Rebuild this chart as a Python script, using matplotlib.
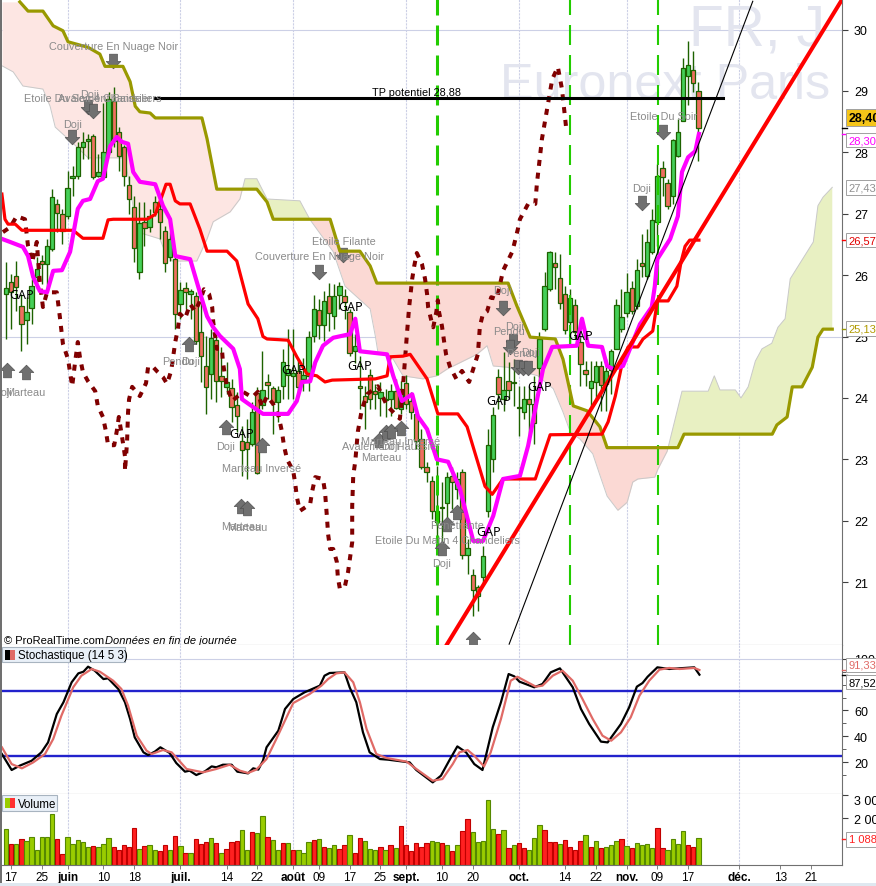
import matplotlib
matplotlib.use('Agg')
import matplotlib.pyplot as plt
from matplotlib.path import Path
from matplotlib.patches import Rectangle
import numpy as np

plt.rcParams['font.family'] = ['Liberation Sans', 'DejaVu Sans']

# chandeliers
opens = [25.69,25.88,25.98,25.50,25.27,25.46,25.97,26.23,26.18,26.43,27.16,26.99,26.96,27.58,27.61,28.09,28.18,28.27,27.61,27.60,
         28.00,28.84,28.33,28.09,27.47,27.11,26.05,26.86,26.78,27.19,27.08,26.72,26.29,26.26,25.53,25.79,25.69,25.66,25.07,24.52,
         24.39,24.94,24.36,24.18,24.16,23.88,23.30,23.28,23.25,24.08,23.88,24.26,24.16,23.93,24.19,24.37,24.35,24.44,24.31,24.36,
         25.01,25.43,25.19,25.66,25.33,25.67,25.66,25.40,24.76,24.19,24.03,24.37,24.11,24.00,23.96,23.98,24.11,23.82,24.24,23.95,
         23.74,23.33,22.87,22.65,21.98,22.20,22.29,22.73,22.52,22.79,21.44,21.11,20.92,21.08,22.16,23.00,24.34,23.98,24.28,24.24,
         23.85,23.77,23.98,23.90,24.49,25.12,25.77,26.20,25.95,25.69,25.24,25.51,24.91,24.45,24.16,24.26,24.52,24.23,24.45,24.80,
         25.12,25.38,25.79,25.50,26.20,25.98,26.38,26.86,27.74,27.50,27.29,27.94,28.51,29.24,29.34,29.00]
closes = [25.79,25.72,25.81,25.20,25.40,25.82,26.10,26.18,26.47,27.27,27.01,26.72,27.42,27.61,28.09,28.17,28.21,27.60,27.68,28.00,
          28.87,28.18,27.94,27.61,27.24,26.44,26.85,26.77,26.96,27.03,26.86,26.20,26.59,25.37,25.76,25.72,25.74,24.93,24.68,24.18,
          24.97,24.27,24.27,24.26,23.85,23.70,23.15,23.17,23.77,22.78,24.13,24.21,23.93,24.13,24.58,24.47,24.40,24.18,24.37,24.99,
          25.45,25.19,25.58,25.38,25.66,25.82,25.56,24.73,24.84,24.16,23.93,23.98,24.06,24.10,23.99,24.11,23.83,24.15,23.90,23.77,
          23.30,22.87,22.79,22.16,22.16,22.23,22.71,22.63,22.68,21.44,21.56,20.87,20.77,21.43,23.23,23.72,24.06,24.13,24.13,24.26,
          23.83,23.98,23.90,23.59,24.96,25.82,26.37,26.13,25.55,25.11,25.63,25.07,24.55,24.39,24.27,24.52,24.21,24.44,24.76,25.51,
          25.32,25.72,25.41,26.08,26.15,26.54,26.90,27.61,27.60,27.12,28.20,28.33,29.37,29.42,29.13,28.40]
highs = [26.21,26.02,26.23,25.69,25.64,25.94,26.29,26.33,26.59,27.40,27.24,27.08,27.70,27.78,28.17,28.33,28.30,28.30,27.97,28.80,
         28.98,29.06,28.41,28.12,27.61,27.29,27.19,27.19,27.08,27.29,27.24,26.80,26.70,26.31,25.89,25.89,25.77,25.72,25.61,25.01,
         25.12,25.07,24.83,24.58,24.31,24.10,23.54,23.66,23.93,24.18,24.76,24.39,24.19,24.19,24.80,25.12,25.12,24.63,24.65,25.09,
         25.68,25.61,25.74,25.87,25.85,25.89,25.77,25.45,25.04,24.68,24.19,24.47,24.23,24.26,24.15,24.23,24.31,24.27,24.37,24.10,
         23.82,23.49,22.96,22.73,22.89,22.63,22.79,22.87,22.79,22.84,21.70,21.21,20.95,21.59,23.49,23.85,24.47,24.75,24.58,24.63,
         24.19,24.19,24.19,24.36,25.07,26.05,26.39,26.38,26.34,25.82,25.77,25.61,25.29,24.60,24.60,24.60,24.60,24.63,24.80,25.61,
         25.77,26.03,25.90,26.26,26.67,26.75,27.08,27.81,27.86,27.57,28.22,28.54,29.54,29.81,29.65,29.15]
lows = [24.96,25.12,25.41,24.76,24.88,25.20,25.77,25.85,25.77,26.39,26.70,26.51,26.91,27.29,27.57,27.89,27.89,27.57,27.60,27.57,
        27.97,28.09,27.70,27.45,26.99,26.21,25.94,26.47,26.70,26.96,26.59,26.05,26.23,25.12,25.29,25.45,25.29,24.88,24.26,23.74,
        23.98,23.93,24.01,24.06,23.61,23.44,22.73,22.68,23.22,22.76,23.82,23.98,23.41,23.61,23.98,23.98,23.98,24.10,24.11,24.11,
        24.91,24.96,24.93,25.09,25.12,25.45,25.29,24.68,24.57,23.82,23.49,23.82,23.82,23.70,23.69,23.70,23.82,23.74,23.82,23.66,
        23.17,22.84,22.63,22.03,21.54,21.54,21.95,22.19,22.35,21.38,21.13,20.45,20.53,20.97,22.06,22.79,23.82,23.79,23.98,23.87,
        23.38,23.66,23.38,23.25,24.26,25.09,25.74,25.77,25.45,25.04,24.84,24.96,24.19,24.19,23.85,23.98,23.79,23.79,24.06,24.80,
        25.07,25.32,25.37,25.45,25.97,25.94,26.35,26.47,27.29,27.08,27.16,27.92,28.51,28.77,28.98,27.86]

# ichimoku et moyennes (barre, prix)
span_b_bars = [2.7,4.3,7.2,9.2,11.1,12.1,16.0,18.3,19.3,22.8,24.2,25.2,26.1,28.1,29.1,38.2,39.2,41.1,48.9,50.9,52.1,63.2,65.1,69.0,71.0,72.3,
               97.9,99.6,102.2,107.1,108.6,110.6,113.3,115.8,117.2,131.0,132.2,149.4,150.3,152.3,153.3,155.2,157.2,158.3,159.3,161.1]
span_b = [30.45,30.30,30.30,30.06,29.98,29.80,29.71,29.60,29.40,29.40,29.15,28.75,28.66,28.64,28.56,28.56,28.22,27.40,27.40,27.19,26.91,26.91,26.39,26.39,26.15,25.87,
          25.87,25.50,24.99,24.96,24.63,23.87,23.79,23.53,23.19,23.19,23.41,23.41,23.56,23.69,24.18,24.18,24.50,24.99,25.12,25.12]
span_a_bars = [-0.8,1.4,3.3,7.2,8.6,9.6,13.8,16.0,23.2,23.8,24.8,25.7,30.0,31.0,32.4,37.2,39.2,40.4,43.7,45.6,46.6,48.9,50.9,57.3,59.3,63.8,66.1,71.0,72.0,72.5,
               75.5,77.4,81.3,84.0,86.0,87.2,91.8,93.8,95.0,97.7,103.7,106.7,108.6,110.0,111.9,114.4,115.8,117.2,119.3,121.1,122.2,123.2,126.5,127.1,128.9,129.5,
               131.8,136.9,138.1,139.2,142.2,143.3,144.7,146.1,147.4,149.3,150.5,151.9,152.9,157.4,158.3,159.3,161.1]
span_a = [29.41,29.31,29.08,29.03,28.75,28.41,28.09,27.91,27.91,27.61,27.11,26.70,26.59,26.38,26.23,26.23,26.59,26.87,27.03,27.24,27.57,27.57,27.24,27.21,26.90,26.38,25.82,25.45,25.01,24.75,
          24.63,24.36,24.31,24.36,24.47,24.52,24.71,24.85,24.52,24.50,24.36,24.15,23.77,23.45,23.33,23.09,22.74,22.40,22.17,22.30,22.63,22.68,22.71,22.84,23.13,23.33,
          24.11,24.11,24.36,24.13,24.13,24.00,24.18,24.60,24.80,24.89,25.15,25.29,25.94,26.54,27.13,27.27,27.43]
magenta_bars = [-0.8,0.8,3.3,4.3,5.3,6.6,8.0,9.2,10.9,12.5,14.0,15.0,16.4,17.9,18.9,20.3,21.6,22.6,23.8,24.8,26.1,29.1,30.6,32.0,33.0,35.9,37.8,39.2,40.4,41.7,44.3,45.6,46.0,48.2,50.1,55.0,
                56.7,57.7,59.3,60.3,61.8,63.8,67.1,68.1,69.0,74.3,75.5,77.2,79.2,80.3,82.1,84.0,86.2,88.5,91.1,93.0,95.0,96.9,100.2,101.8,104.7,106.5,111.3,112.3,113.5,116.2,117.2,118.4,120.3,
                123.6,125.9,126.5,127.0,129.5,131.0,131.8,133.0,134.4,135.1]
magenta = [26.59,26.54,26.46,26.31,25.97,25.74,25.72,26.07,26.08,26.38,27.08,27.21,27.24,27.53,27.57,28.10,28.25,28.17,28.14,27.68,27.52,27.48,27.13,26.91,26.31,26.26,25.72,25.33,25.15,25.01,24.80,24.47,23.98,23.85,23.74,23.74,
           23.95,24.26,24.27,24.58,24.85,24.98,25.04,25.29,24.76,24.71,24.36,23.95,24.06,23.70,23.49,23.00,22.96,22.52,21.67,21.67,22.08,22.68,22.73,23.22,24.47,24.83,24.85,25.29,24.85,24.83,24.52,24.47,24.52,
           25.20,25.48,25.82,26.26,26.59,26.96,27.68,27.92,28.02,28.30]
kijun_bars = [-0.8,-0.2,0.4,1.8,3.1,13.1,15.0,18.9,19.9,20.9,27.5,29.1,30.0,31.2,32.0,33.0,33.9,35.9,37.8,39.2,43.1,45.0,47.2,49.1,50.1,50.9,55.0,56.7,58.7,60.6,62.2,63.6,72.0,74.3,74.9,77.4,78.8,
              82.1,84.2,88.1,89.9,93.4,94.8,96.9,103.2,106.1,116.2,117.4,118.8,120.3,121.3,123.2,124.2,126.1,127.0,129.1,130.8,131.6,132.4,133.3,135.1]
kijun = [27.32,26.91,26.83,26.83,26.73,26.73,26.60,26.60,26.90,26.91,26.91,26.99,27.19,27.48,27.48,27.21,27.16,27.16,26.75,26.39,26.39,26.23,25.53,25.29,25.00,24.96,24.94,24.67,24.39,24.36,24.26,24.29,24.31,24.36,24.67,24.68,24.71,
         24.31,23.74,23.74,23.53,22.56,22.43,22.68,22.68,23.40,23.41,23.61,24.03,24.63,24.83,24.83,24.96,25.09,25.58,25.58,25.82,26.21,26.47,26.57,26.57]
chikou_bars = [-0.6,0.8,2.1,3.7,4.3,5.1,6.0,6.6,7.2,8.0,9.9,10.5,11.1,12.1,12.9,13.5,14.0,14.4,15.0,16.0,17.4,17.9,18.9,19.5,19.9,21.1,21.6,22.0,22.6,23.2,23.2,23.6,23.8,24.0,24.6,26.1,27.3,27.7,28.5,29.6,30.6,31.4,32.2,32.6,33.0,33.5,33.9,34.9,35.9,36.9,37.8,38.6,39.6,40.2,40.4,41.1,42.1,42.3,42.7,43.1,44.1,46.2,48.0,49.1,49.9,50.9,52.1,53.2,53.8,54.2,54.8,56.0,56.4,56.7,57.3,59.3,59.7,60.3,61.8,62.2,62.6,62.8,63.2,63.8,64.5,64.7,65.1,66.1,66.7,67.5,67.5,67.7,68.1,68.6,69.4,70.4,72.5,74.3,76.8,77.4,77.8,78.2,78.6,79.2,79.6,80.1,81.1,81.7,82.1,82.3,83.1,83.3,83.9,84.2,84.4,85.0,85.4,85.8,86.6,87.8,88.9,90.3,91.1,92.0,92.4,93.0,93.8,94.6,95.7,96.9,98.7,99.1,99.8,100.2,101.8,103.2,103.5,104.5,105.5,106.5,107.6,108.4,109.2]
chikou = [26.70,26.78,26.96,26.91,26.47,26.21,26.54,25.89,25.48,25.72,25.72,25.32,24.88,24.63,24.19,24.60,24.91,24.67,24.42,24.27,24.11,23.87,23.69,23.45,23.23,23.23,23.46,23.69,23.38,23.05,22.81,23.28,23.77,23.98,24.18,24.03,24.24,24.50,24.52,24.42,24.34,24.23,24.44,24.68,24.91,25.12,25.37,25.29,25.53,25.41,25.58,25.77,25.69,25.48,25.24,24.80,24.80,24.58,24.36,24.18,23.95,24.10,24.01,24.10,23.85,24.03,23.90,23.69,23.45,23.22,23.00,22.81,22.60,22.39,22.16,22.27,22.48,22.71,22.68,22.47,22.03,21.78,21.54,21.54,21.33,21.08,20.89,20.94,21.17,21.65,22.24,22.73,22.97,23.45,23.82,24.06,24.19,23.87,23.66,24.19,24.63,25.07,25.48,25.94,26.15,26.36,26.18,25.94,25.69,25.48,25.20,25.15,25.40,25.59,25.41,25.17,24.93,24.71,24.50,24.31,24.44,24.26,24.47,24.71,25.17,25.37,25.41,25.64,25.61,26.07,26.38,26.51,26.75,26.91,27.16,27.16,27.48,28.22,28.71,29.19,29.39,29.03,28.41]

# droites tracees
trend_red_bars = [86.0,162.8]
trend_red = [19.99,30.46]
trend_black_bars = [98.1,145.6]
trend_black = [19.99,30.46]
tp_bars = [29.0,139.8]
tp_price = 28.88
signal_bars = [84.1,109.9,127.1]

# figures chartistes
down_bars = [20.9,16.0,17.0,12.9,61.0,65.7,96.9,98.9,98.3,99.8,100.8,101.8,128.1,124.0]
down_prices = [29.49,28.74,28.67,28.25,26.05,26.33,25.46,24.93,24.83,24.50,24.49,24.49,28.33,27.17]
up_bars = [0.2,3.9,35.7,42.9,45.8,47.0,49.9,72.7,74.1,75.1,77.0,85.0,86.0,87.9,91.1]
up_prices = [24.45,24.42,24.88,23.53,22.24,22.21,23.23,23.31,23.44,23.46,23.51,21.56,21.95,22.14,20.07]
pattern_names = ['Couverture En Nuage Noir','Etoile Du Soir 4 Chandeliers','Avalement Baissier','Doji','Doji','Doji','Marteau','Pendu','Doji','Doji',
                 'Marteau Inversé','Marteau','Marteau','Etoile Filante','Couverture En Nuage Noir','Marteau Inversé','Avalement Haussier','Doji','Marteau',
                 'Pénétrante','Etoile Du Matin 4 Chandeliers','Doji','Doji','Pendu','Doji','Pendu','Doji','Etoile Du Soir','Doji']
pattern_bars = [20.9,17.0,19.3,16.2,12.9,-0.6,3.7,33.5,35.9,42.9,49.9,45.8,47.0,65.9,61.2,77.0,75.1,74.9,73.1,88.0,86.0,85.0,96.9,98.1,99.1,100.7,102.2,128.1,124.0]
pattern_prices = [29.73,28.89,28.88,28.95,28.46,24.10,24.10,24.60,24.60,23.22,22.86,21.91,21.90,26.56,26.31,23.30,23.22,23.22,23.04,21.93,21.69,21.31,25.76,25.09,25.17,24.73,24.75,28.59,27.42]
gap_bars = [3.0,46.0,56.0,67.1,69.0,96.1,104.1,94.0,112.0]
gap_prices = [25.68,23.42,24.47,25.49,24.52,23.95,24.19,21.82,25.02]

# stochastique
k_bars = [-0.8,1.1,2.7,5.0,6.9,8.2,9.9,11.2,12.8,14.1,15.1,16.0,17.3,19.0,19.9,21.9,23.2,24.2,25.1,26.8,27.7,29.0,30.1,31.9,33.2,34.9,35.8,37.1,38.8,40.1,41.0,42.3,44.0,45.1,47.2,48.2,49.2,50.1,50.8,53.1,54.4,56.0,58.2,61.2,62.1,63.1,66.0,67.0,68.3,69.6,70.9,72.9,74.5,78.7,80.0,83.2,
          84.8,86.4,88.0,89.7,91.3,92.9,94.9,96.5,98.0,99.1,100.1,103.0,104.6,106.2,108.0,110.5,112.1,113.7,116.0,117.3,119.9,121.5,123.0,124.1,125.1,127.0,129.3,134.2,135.2]
k_values = [26.2,13.8,17.2,21.0,27.5,35.2,57.2,66.3,81.8,88.7,90.0,93.9,90.8,84.3,84.9,76.6,66.3,53.3,39.1,27.5,25.4,28.0,31.4,27.0,19.2,12.5,13.3,9.9,12.8,16.6,15.9,17.9,17.9,12.5,11.2,15.1,14.1,21.0,31.4,44.3,61.1,68.8,74.0,79.2,86.9,89.0,89.5,77.9,66.3,43.0,27.5,22.3,21.8,19.7,13.8,4.2,
            9.4,21.0,32.1,27.5,18.4,13.8,46.9,66.3,88.2,86.4,82.3,77.9,80.5,89.5,92.6,77.9,61.1,49.5,35.8,35.2,49.5,62.4,78.4,81.2,86.1,93.4,92.1,93.4,87.7]
d_bars = [-0.8,1.1,3.1,5.3,7.6,9.2,10.8,13.1,14.7,16.7,18.3,20.9,22.5,23.8,25.5,27.4,28.4,30.6,32.3,35.2,38.4,41.0,43.6,45.6,47.2,48.8,50.8,52.7,56.0,59.2,61.5,62.8,64.4,66.0,67.7,69.0,70.3,72.2,74.2,78.1,80.0,83.2,
          85.1,87.1,88.4,90.0,91.3,93.2,94.5,96.5,98.4,99.7,103.3,104.6,106.6,108.5,110.5,112.4,114.4,116.3,118.0,119.9,121.8,123.5,125.4,127.4,129.3,131.3,134.2,135.2]
d_values = [31.4,18.4,15.1,19.7,26.2,37.8,55.9,77.9,86.9,92.1,90.0,83.0,76.6,63.7,40.4,28.8,26.2,29.3,27.5,14.6,12.0,14.6,17.9,13.3,11.5,14.1,22.3,37.8,65.7,72.7,79.2,84.3,88.7,89.5,81.8,66.3,45.6,26.2,23.1,20.3,14.6,5.5,
            6.8,18.4,27.5,29.3,24.9,16.6,27.5,53.3,83.0,86.1,78.4,79.2,86.9,90.8,83.0,68.8,53.3,40.4,36.5,43.0,54.6,71.4,83.0,91.6,92.9,92.1,92.9,91.3]

# volume (milliers)
volumes = [1537,870,870,1100,1015,1175,620,1175,1175,2190,1100,435,1175,870,1045,970,740,785,740,870,1130,740,620,825,740,1565,665,785,825,620,565,825,620,1220,785,520,480,1090,900,955,1130,915,520,665,955,1015,1480,620,1390,1350,2090,1175,1045,610,915,915,610,610,520,955,1045,1090,740,695,825,665,825,1260,520,1130,1015,665,610,740,610,825,695,1650,825,565,915,740,915,1015,955,
           915,825,565,825,1435,1960,1390,955,1000,2780,1520,1305,1480,695,825,915,695,650,1130,1700,1480,955,955,870,1045,740,650,1000,1260,740,1000,695,740,825,1000,1090,785,695,915,825,870,695,1565,695,650,1090,870,1435,825,740,1130]
volume_dirs = 'GRGRGGGGGGRRGGGGGRGGGRRRRRGRGGRRGRGRGRRRGRGRRRGGRGGRGGRGRGGGRGRGGRRGRRGGGRGRGRRRRRR' + 'GGRGRGRRGGGGGRGRGRRGGGRRRGRRRRGRGRGGGRGRGGGGRRGGGGRR'

tick_bars = [1,7,12,19,25,34,43,49,56,61,67,73,78,85,91,100,109,115,121,127,133,143,151,157]
tick_labels = ['17','25','juin','10','18','juil.','14','22','août','09','17','25','sept.','10','20','oct.','14','22','nov.','09','17','déc.','13','21']
month_labels = ['juin','juil.','août','sept.','oct.','nov.','déc.']
month_bars = [12,34,56,78,100,121,143]

bar_x = np.arange(len(opens))
x_left, x_right = -0.78, 162.9
W, H = 876, 887

fig = plt.figure(figsize=(8.76, 8.87), dpi=100, facecolor='white')

def panel(top, bottom):
    return fig.add_axes([2 / W, 1 - bottom / H, 839.5 / W, (bottom - top) / H])

ax = panel(0, 646)
ax_st = panel(646, 795)
ax_vol = panel(795, 865.5)

for a in (ax, ax_st, ax_vol):
    a.set_xlim(x_left, x_right)
    a.yaxis.tick_right()
    a.spines['left'].set_visible(False)
    a.spines['top'].set_visible(False)
    for s in ('right', 'bottom'):
        a.spines[s].set_color('#707070')
    a.tick_params(axis='y', length=4, width=0.8, color='#404040', labelsize=9, pad=5)
    for b in month_bars:
        a.axvline(b, color='#ccd0e6', lw=0.8, ls=(0, (2, 1)), zorder=0.5)

# graphique principal
ax.set_ylim(19.976, 30.497)
ax.set_xticks([])
ax.set_yticks([21, 22, 23, 24, 25, 26, 27, 28, 29, 30])
ax.set_yticklabels(['21', '22', '23', '24', '25', '26', '27', '28', '29', '30'])
ax.axhline(30, color='#ccd0e6', lw=0.8, zorder=0.5)
ax.axhline(25, color='#ccd0e6', lw=0.8, zorder=0.5)

ax.text(96.3, 28.89, 'Euronext Paris', fontsize=36.3, color='#e3e5ef', va='baseline', zorder=0.6)
ax.text(133.2, 29.76, 'FR, J', fontsize=41, color='#e3e5ef', va='baseline', zorder=0.6)

# nuage : premier lobe plus pale que le second, coupure au croisement des deux lignes
grid = np.linspace(x_left, 161.1, 1600)
a_line = np.interp(grid, span_a_bars, span_a)
b_line = np.interp(grid, span_b_bars, span_b)
ax.fill_between(grid, a_line, b_line, where=(b_line >= a_line) & (grid < 59), color='#fde6e3', lw=0, zorder=1)
ax.fill_between(grid, a_line, b_line, where=(b_line >= a_line) & (grid >= 59), color='#fbd9d4', lw=0, zorder=1)
ax.fill_between(grid, a_line, b_line, where=b_line <= a_line, color='#e8f0c2', lw=0, zorder=1)
ax.plot(span_a_bars, span_a, color='#c9c9c9', lw=0.7, zorder=1.2)

# chandeliers
wick_color = '#1d6200'
ax.vlines(bar_x, lows, highs, color=wick_color, lw=1.0, zorder=2)
opens_arr = np.array(opens)
closes_arr = np.array(closes)
up = closes_arr >= opens_arr
ax.bar(bar_x, np.abs(closes_arr - opens_arr), bottom=np.minimum(opens_arr, closes_arr), width=0.85,
       color=np.where(up, '#45cf58', '#ef6f60'), edgecolor=wick_color, linewidth=0.9, zorder=2.1)

for b in signal_bars:
    lw = 2.2 if b == signal_bars[0] else 1.5
    ax.axvline(b, color='#22cc00', lw=lw, ls=(0, (20 * 0.72 / lw, 10 * 0.72 / lw)), zorder=2.3)

# fleches
down_arrow = Path([(-0.27, 0.5), (0.27, 0.5), (0.27, 0), (0.5, 0), (0, -0.5), (-0.5, 0), (-0.27, 0), (-0.27, 0.5)], closed=True)
up_arrow = Path([(-0.27, -0.5), (0.27, -0.5), (0.27, 0), (0.5, 0), (0, 0.5), (-0.5, 0), (-0.27, 0), (-0.27, -0.5)], closed=True)
ax.plot(down_bars, down_prices, ls='', marker=down_arrow, ms=10.5, mfc='#707070', mec='#505050', mew=0.5, zorder=2.4)
ax.plot(up_bars, up_prices, ls='', marker=up_arrow, ms=10.5, mfc='#707070', mec='#505050', mew=0.5, zorder=2.4)

ax.plot(span_b_bars, span_b, color='#999900', lw=2.3, solid_joinstyle='round', zorder=3)
ax.plot(chikou_bars, chikou, color='#800000', lw=2.9, ls=(0, (1.5, 1.7)), zorder=3.1)
ax.plot(kijun_bars, kijun, color='#ff0000', lw=2.3, zorder=3.2)
ax.plot(magenta_bars, magenta, color='#ff00ff', lw=3.0, zorder=3.3)
ax.plot(trend_red_bars, trend_red, color='#ff0000', lw=2.9, zorder=3.4)
ax.plot(trend_black_bars, trend_black, color='black', lw=0.8, zorder=3.4)
ax.plot(tp_bars, [tp_price, tp_price], color='black', lw=2.2, zorder=3.5)
ax.text(80, tp_price + 0.02, 'TP potentiel 28,88', fontsize=7.8, ha='center', va='bottom', zorder=3.6)

for name, b, p in zip(pattern_names, pattern_bars, pattern_prices):
    ax.text(b, p, name, fontsize=7.8, color='#8a8a8a', ha='center', va='center', zorder=3.7, clip_on=True)
for b, p in zip(gap_bars, gap_prices):
    ax.text(b, p, 'GAP', fontsize=9, color='black', ha='center', va='center', zorder=3.8, family='Noto Sans')

ax.text(0.002, 0.0035, '© ProRealTime.com', transform=ax.transAxes, fontsize=8, zorder=4)
ax.text(0.1225, 0.0035, 'Données en fin de journée', transform=ax.transAxes, fontsize=8, style='italic', zorder=4)

# etiquettes de valeur
def tag(axis, y, txt, color, face='white', weight='normal', size=8):
    axis.annotate(txt, xy=(1.0085, y), xycoords=axis.get_yaxis_transform(), color=color, fontsize=size,
                  fontweight=weight, va='center', ha='left', zorder=6, annotation_clip=False,
                  bbox=dict(boxstyle='square,pad=0.2', fc=face, ec='#a0a0a0', lw=0.7))

def level_tick(axis, y, color):
    axis.plot([1.0, 1.006], [y, y], color=color, lw=1, transform=axis.get_yaxis_transform(), clip_on=False, zorder=5)

level_tick(ax, 28.40, 'black')
level_tick(ax, 28.30, '#ff00ff')
level_tick(ax, 26.57, '#ff0000')
level_tick(ax, 25.13, '#999900')
tag(ax, 28.56, '28,40', 'black', face='#f5c518', weight='bold', size=9)
tag(ax, 28.20, '28,30', '#ff00ff')
tag(ax, 27.43, '27,43', '#909090')
tag(ax, 26.57, '26,57', '#e00000')
tag(ax, 25.13, '25,13', '#b09a00')

# stochastique
ax_st.set_ylim(-4.8, 110.7)
ax_st.set_xticks([])
ax_st.set_yticks([20, 40, 60, 100])
ax_st.set_yticks([10, 30, 50, 70, 80, 90], minor=True)
ax_st.set_yticklabels(['20', '40', '60', '100'])
ax_st.tick_params(axis='y', which='minor', length=3, width=0.7, color='#606060')
ax_st.axhline(100, color='#ccd0e6', lw=0.8, zorder=0.5)
ax_st.axhline(75, color='#2222cc', lw=1.7, zorder=1)
ax_st.axhline(25, color='#2222cc', lw=1.7, zorder=1)
ax_st.plot(k_bars, k_values, color='black', lw=1.6, zorder=2)
ax_st.plot(d_bars, d_values, color='#e06a66', lw=1.6, zorder=3)
level_tick(ax_st, 91.33, '#e06a66')
level_tick(ax_st, 87.52, 'black')
tag(ax_st, 95.2, '91,33', '#e06a66')
tag(ax_st, 82.0, '87,52', 'black')

# volume
ax_vol.set_ylim(0, 3060)
ax_vol.bar(bar_x, volumes, width=0.85, color=['#99cc00' if d == 'G' else '#ff2020' for d in volume_dirs],
           edgecolor=['#558800' if d == 'G' else '#c00000' for d in volume_dirs], linewidth=0.8, zorder=2)
ax_vol.set_yticks([2000, 3000])
ax_vol.set_yticklabels(['2 000 k', '3 000 k'])
ax_vol.get_yticklabels()[1].set_va('top')
level_tick(ax_vol, 1088, '#ff2020')
tag(ax_vol, 1088, '1 088 k', '#ff2020')
ax_vol.set_xticks(tick_bars)
ax_vol.set_xticklabels(tick_labels, fontsize=8.5)
for lab in ax_vol.get_xticklabels():
    if lab.get_text() in month_labels:
        lab.set_fontweight('bold')
ax_vol.tick_params(axis='x', length=3, width=0.7, color='#808080', pad=2)

# cartouches des indicateurs
def legend_box(x0, y0, w, h, label, c1, c2):
    tr = fig.transFigure
    fig.add_artist(Rectangle((x0 / W, 1 - (y0 + h) / H), w / W, h / H, transform=tr, fc='#e9f0f8', ec='#a8b4c0', lw=0.8, zorder=7))
    fig.add_artist(Rectangle(((x0 + 3) / W, 1 - (y0 + 13) / H), 5 / W, 10 / H, transform=tr, fc=c1, ec='none', zorder=8))
    fig.add_artist(Rectangle(((x0 + 8) / W, 1 - (y0 + 13) / H), 5 / W, 10 / H, transform=tr, fc=c2, ec='none', zorder=8))
    fig.text((x0 + 16) / W, 1 - (y0 + h / 2 + 0.5) / H, label, fontsize=8.3, va='center', zorder=8)

legend_box(2, 648, 123, 15, 'Stochastique (14 5 3)', 'black', '#e06a66')
legend_box(2, 796, 55, 16, 'Volume', '#99cc00', '#ff3030')

# bord gauche et barre du bas
fig.add_artist(Rectangle((0, 0), 2 / W, 1, transform=fig.transFigure, fc='#707070', ec='none', zorder=9))
fig.add_artist(Rectangle((0, 0), 1, 3 / H, transform=fig.transFigure, fc='#dfe8f0', ec='none', zorder=9))

fig.savefig('out.png', dpi=100)
